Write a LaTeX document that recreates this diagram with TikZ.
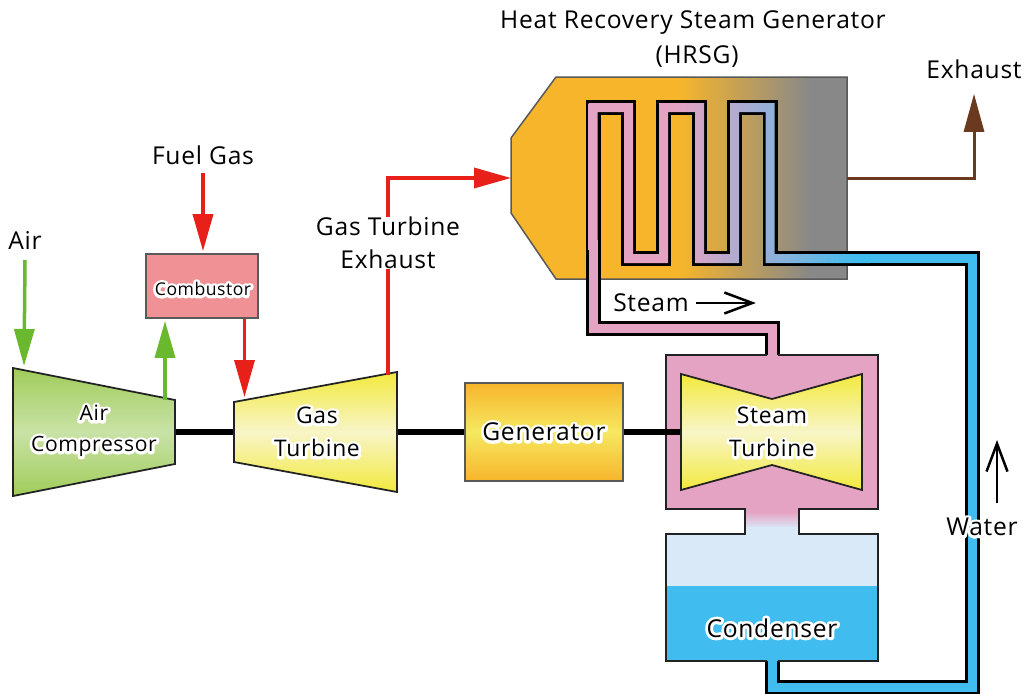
\documentclass[tikz,border=0pt]{standalone}
\usepackage{color}
\usepackage{fontspec}
\setmainfont{Open Sans}[LetterSpace=3]
\usetikzlibrary{
	positioning,
	arrows.meta
}
\definecolor{aircolor}{HTML}{6AB82E}
\definecolor{gascolor}{HTML}{E8201A}
\definecolor{fluecolor}{HTML}{6B3A1E}
\definecolor{steamcolor}{HTML}{E5A3C3}
\definecolor{watercolor}{HTML}{40BDEE}
\definecolor{vapourcolor}{HTML}{DAE9F8}
\definecolor{hotcolor}{HTML}{F7B52B}
\definecolor{coldcolor}{HTML}{888888}
\definecolor{linecolor}{HTML}{222222}
\definecolor{yellowedge}{HTML}{F2E93D}
\definecolor{yellowmid}{HTML}{F8F5C8}
\definecolor{genmid}{HTML}{F5E860}
\definecolor{compedge}{HTML}{A0CC5A}
\definecolor{compmid}{HTML}{C9E2A6}
\definecolor{combcolor}{HTML}{F09295}
\pgfdeclarehorizontalshading{hrsgshade}{100bp}{
	color(0bp)=(hotcolor); color(50bp)=(hotcolor); color(69.5bp)=(coldcolor); color(100bp)=(coldcolor)}
\pgfdeclarehorizontalshading{tubeshade}{100bp}{
	color(0bp)=(steamcolor); color(40.5bp)=(steamcolor); color(70.5bp)=(watercolor); color(100bp)=(watercolor)}
\pgfdeclareverticalshading{yellowshade}{100bp}{
	color(0bp)=(yellowedge); color(25bp)=(yellowedge); color(50bp)=(yellowmid); color(75bp)=(yellowedge); color(100bp)=(yellowedge)}
\pgfdeclareverticalshading{compshade}{100bp}{
	color(0bp)=(compedge); color(25bp)=(compedge); color(50bp)=(compmid); color(75bp)=(compedge); color(100bp)=(compedge)}
\pgfdeclareverticalshading{genshade}{100bp}{
	color(0bp)=(hotcolor); color(25bp)=(hotcolor); color(50bp)=(genmid); color(75bp)=(hotcolor); color(100bp)=(hotcolor)}
\tikzset{
	label/.style={
		font=\fontsize{14}{18.8}\selectfont,
		align=center,
		inner sep=0pt,
		text=black
	},
	machine/.style={
		draw=linecolor,
		line width=0.035cm
	},
	airarrow/.style={
		-{Triangle[length=0.74cm,width=0.4cm]},
		color=aircolor,
		line width=0.07cm
	},
	gasarrow/.style={
		-{Triangle[length=0.74cm,width=0.4cm]},
		color=gascolor,
		line width=0.07cm
	},
	fluearrow/.style={
		-{Triangle[length=0.76cm,width=0.4cm]},
		color=fluecolor,
		line width=0.06cm
	},
	flowarrow/.style={
		-{Straight Barb[length=0.56cm,width=0.42cm]},
		color=black,
		line width=0.05cm
	},
	shaft/.style={
		line width=0.12cm,
		color=black
	},
	tubeline/.style={
		line width=0.3cm,
		color=black,
		miter limit=10
	},
	tubefill/.style={
		line width=0.18cm,
		miter limit=10
	}
}
\newcommand{\halo}[1]{\leavevmode\rlap{\special{pdf:code 1 Tr 3.2 w 1 1 1 RG 1 j 1 J}#1\special{pdf:code 0 Tr 0 0 0 RG}}#1}

\begin{document}
\begin{tikzpicture}[x=0.02cm,y=-0.02cm]
	\useasboundingbox (0,0) rectangle (1024,693);

	% Heat recovery steam generator
	\coordinate (hrsgin) at (511,178);
	\coordinate (hrsgout) at (847,178);
	\path[draw=black!65, line width=0.03cm, shading=hrsgshade]
	(556,77) -- (847,77) -- (847,279) -- (556,279) -- (511,213) -- (511,138) -- cycle;

	% Tube outline
	\coordinate (steamin) at (772.5,355);
	\coordinate (waterin) at (772.5,661);
	\draw[tubeline] (steamin) -- (772.5,328.5) -- (593,328.5) -- (593,107.5)
	-- (628.5,107.5) -- (628.5,258.5) -- (663.5,258.5) -- (663.5,107.5)
	-- (699.5,107.5) -- (699.5,258.5) -- (734.5,258.5) -- (734.5,107.5)
	-- (770,107.5) -- (770,258.5) -- (972.5,258.5) -- (972.5,687) -- (772.5,687) -- (waterin);

	% Tube inside, steam end to water end
	\begin{scope}
		\clip (588.5,103) rectangle (597.5,250)
		(588.5,103) rectangle (633,112)
		(624,103) rectangle (633,263)
		(624,254) rectangle (668,263)
		(659,103) rectangle (668,263)
		(659,103) rectangle (704,112)
		(695,103) rectangle (704,263)
		(695,254) rectangle (739,263)
		(730,103) rectangle (739,263)
		(730,103) rectangle (774.5,112)
		(765.5,103) rectangle (774.5,263)
		(765.5,254) rectangle (870,263);
		\path[shading=tubeshade] (586,95) rectangle (886,275);
	\end{scope}
	\draw[tubefill, steamcolor] (772.5,362) -- (772.5,328.5) -- (593,328.5) -- (593,240);
	\draw[tubefill, watercolor] (866,258.5) -- (972.5,258.5) -- (972.5,687) -- (772.5,687) -- (772.5,655);

	% Turbine casing and condenser
	\fill[steamcolor] (666,355) rectangle (878,509);
	\fill[vapourcolor] (666,534) rectangle (878,586);
	\fill[watercolor] (666,586) rectangle (878,661);
	\path[top color=steamcolor, bottom color=vapourcolor] (745,512) rectangle (799,528);
	\fill[steamcolor] (745,509) rectangle (799,513);
	\fill[vapourcolor] (745,527) rectangle (799,534);
	\draw[machine, line width=0.04cm] (778,355) -- (878,355) -- (878,509) -- (799,509) -- (799,534)
	-- (878,534) -- (878,661) -- (778,661);
	\draw[machine, line width=0.04cm] (767,661) -- (666,661) -- (666,534) -- (745,534) -- (745,509)
	-- (666,509) -- (666,355) -- (767,355);
	\draw[tubefill, steamcolor] (772.5,365) -- (772.5,345);
	\draw[tubefill, watercolor] (772.5,650) -- (772.5,670);

	% Shaft line
	\coordinate (compright) at (175,432);
	\coordinate (gtleft) at (234,432);
	\coordinate (gtright) at (397,432);
	\coordinate (stleft) at (681,432);
	\node[machine, draw=black!65, minimum width=3.16cm, minimum height=1.96cm, inner sep=0pt,
	shading=genshade] (generator) at (544,432) {};
	\draw[shaft] (compright) -- (gtleft);
	\draw[shaft] (gtright) -- (generator);
	\draw[shaft] (generator) -- (stleft);

	% Machines
	\path[machine, shading=compshade] (13,368) -- (175,400) -- (175,464) -- (13,496) -- cycle;
	\path[machine, shading=yellowshade] (234,402) -- (397,372) -- (397,492) -- (234,462) -- cycle;
	\path[machine, shading=yellowshade] (681,374) -- (772,399) -- (862,374) -- (862,490) -- (772,465) -- (681,490) -- cycle;
	\node[machine, draw=black!65, fill=combcolor, minimum width=2.24cm, minimum height=1.28cm] (combustor) at (202,286) {};

	% Connection points
	\coordinate (compin) at (24,366);
	\coordinate (compout) at (165,400);
	\coordinate (gtin) at (244.5,397);
	\coordinate (gtout) at (388,375);

	% Labels
	\node[label] (airlabel) at (25,240) {Air};
	\node[label] (fuellabel) at (203,155) {Fuel Gas};
	\node[label] (exhaustlabel) at (974,69) {Exhaust};
	\node[label] (hrsglabel) at (693,23) {Heat Recovery Steam Generator};
	\node[label, below=19.2pt of hrsglabel.center, anchor=center, xshift=2.3pt] (hrsgshort) {(HRSG)};
	\node[label] (steamlabel) at (651,303) {Steam};
	\node[label] (waterlabel) at (982,527) {\halo{Water}};
	\node[label, font=\fontsize{12}{17.5}\selectfont] (aircomplabel) at (94,431) {\halo{Air}\\ \halo{Compressor}};
	\node[label, font=\fontsize{13}{18.8}\selectfont] (gtlabel) at (317,432) {\halo{Gas}\\ \halo{Turbine}};
	\node[label, font=\fontsize{13}{18.8}\selectfont] (stlabel) at (772,432) {\halo{Steam}\\ \halo{Turbine}};
	\node[label] at (generator) (genlabel) {\halo{Generator}};
	\node[label, font=\fontsize{10}{14}\selectfont] at (203,289) (comblabel) {\halo{Combustor}};
	\node[label] (condlabel) at (772,628) {\halo{Condenser}};

	% Arrows
	\draw[airarrow] (airlabel.south |- 0,260) -- (compin);
	\draw[airarrow, shorten >=0.04cm] (compout) -- (compout |- combustor.south);
	\draw[gasarrow, shorten <=0.16cm, shorten >=0.04cm] (fuellabel.south) -- (combustor.north -| fuellabel.south);
	\draw[gasarrow] (gtin |- combustor.south) -- (gtin);
	\draw[gasarrow] (gtout) |- (hrsgin);
	\draw[fluearrow, shorten >=0.3cm] (hrsgout) -| (exhaustlabel.south);
	\draw[flowarrow] (steamlabel.east) ++(4pt,0) coordinate (steamtail) -- ++(34pt,0) coordinate (steamhead);
	\draw[flowarrow] (997,503) coordinate (watertail) -- (997,440) coordinate (waterhead);

	% Over the exhaust line
	\node[label, fill=white] (gtexhaust) at (388,243) {Gas Turbine\\ Exhaust};
\end{tikzpicture}
\end{document}
